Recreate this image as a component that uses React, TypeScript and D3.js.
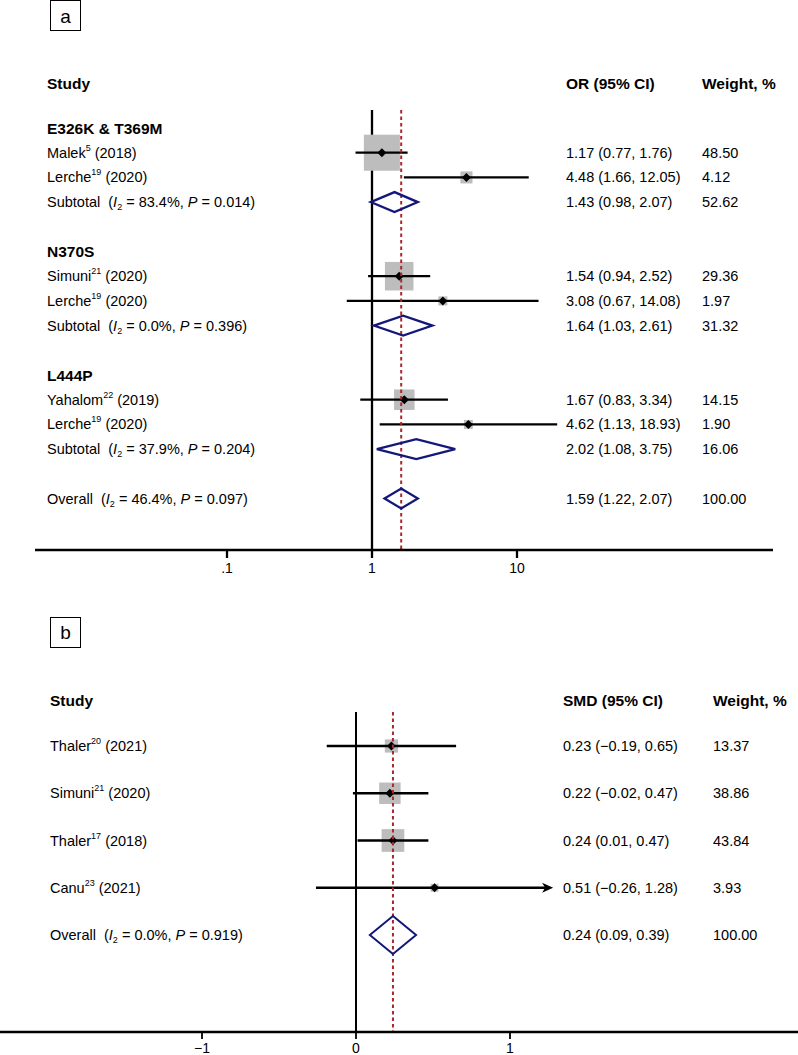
import React from "react";
import * as d3 from "d3";

// ---------- Panel a data ----------
const groupsA = ["E326K & T369M", "N370S", "L444P"];
const studyA = ["Malek", "Lerche", "Simuni", "Lerche", "Yahalom", "Lerche"];
const refA = ["5", "19", "21", "19", "22", "19"];
const yearA = [2018, 2020, 2020, 2020, 2019, 2020];
const groupOfA = [0, 0, 1, 1, 2, 2];
const orA = [1.17, 4.48, 1.54, 3.08, 1.67, 4.62];
const loA = [0.77, 1.66, 0.94, 0.67, 0.83, 1.13];
const hiA = [1.76, 12.05, 2.52, 14.08, 3.34, 18.93];
const wA = [48.5, 4.12, 29.36, 1.97, 14.15, 1.9];
const subEst = [1.43, 1.64, 2.02];
const subLo = [0.98, 1.03, 1.08];
const subHi = [2.07, 2.61, 3.75];
const subW = [52.62, 31.32, 16.06];
const subI2 = ["83.4", "0.0", "37.9"];
const subP = ["0.014", "0.396", "0.204"];
const overallA = { est: 1.59, lo: 1.22, hi: 2.07, w: 100, i2: "46.4", p: "0.097" };
const ticksA = [0.1, 1, 10];
const tickLabelsA = [".1", "1", "10"];

// ---------- Panel b data ----------
const studyB = ["Thaler", "Simuni", "Thaler", "Canu"];
const refB = ["20", "21", "17", "23"];
const yearB = [2021, 2020, 2018, 2021];
const smdB = [0.23, 0.22, 0.24, 0.51];
const loB = [-0.19, -0.02, 0.01, -0.26];
const hiB = [0.65, 0.47, 0.47, 1.28];
const wB = [13.37, 38.86, 43.84, 3.93];
const overallB = { est: 0.24, lo: 0.09, hi: 0.39, w: 100, i2: "0.0", p: "0.919" };
const ticksB = [-1, 0, 1];

const f2 = d3.format(".2f");
const FONT = "'Liberation Sans', Arial, sans-serif";
const FS = 14.5;
const FSB = 15.5;
const NAVY = "#14177a";
const RED = "#a8292c";
const GREY = "#bdbdbd";
const LW = 2.3;

function Sup({ t }: { t: string }) {
  return (
    <tspan fontSize={9} dy={-5}>
      {t}
    </tspan>
  );
}

function StatLabel({ x, y, prefix, i2, p }: { x: number; y: number; prefix: string; i2: string; p: string }) {
  return (
    <text x={x} y={y} fontSize={FS} dominantBaseline="central" style={{ whiteSpace: "pre" }}>
      {prefix + "  ("}
      <tspan fontStyle="italic">I</tspan>
      <tspan fontSize={9} dy={5}>2</tspan>
      <tspan dy={-5}>{" = " + i2 + "%, "}</tspan>
      <tspan fontStyle="italic">P</tspan>
      {" = " + p + ")"}
    </text>
  );
}

function Diamond({ x, lo, hi, y, h, stroke, fill, sw }: any) {
  const p = d3.path();
  p.moveTo(lo, y);
  p.lineTo(x, y - h);
  p.lineTo(hi, y);
  p.lineTo(x, y + h);
  p.closePath();
  return <path d={p.toString()} fill={fill} stroke={stroke} strokeWidth={sw} strokeLinejoin="miter" />;
}

function PanelA() {
  const x = d3.scaleLog().domain([0.1, 10]).range([227, 517]);
  const row = d3.scaleLinear().domain([0, 15]).range([128, 498.5]);
  const boxSide = (w: number) => 2.2 + 4.86 * Math.sqrt(w);
  const axisY = 550;
  const colOR = 566;
  const colW = 702;
  const labX = 47;

  const studyRow = studyA.map((_, i) => groupOfA[i] * 5 + 1 + (i % 2));
  const subRow = groupsA.map((_, g) => g * 5 + 3);

  return (
    <g fontFamily={FONT}>
      <rect x={50.5} y={0.5} width={30} height={30} fill="white" stroke="black" strokeWidth={1} />
      <text x={65.5} y={16} fontSize={19} textAnchor="middle" dominantBaseline="central">a</text>

      <text x={labX} y={83} fontSize={FSB} fontWeight="bold" dominantBaseline="central">Study</text>
      <text x={colOR} y={83} fontSize={FSB} fontWeight="bold" dominantBaseline="central">OR (95% CI)</text>
      <text x={colW} y={83} fontSize={FSB} fontWeight="bold" dominantBaseline="central">Weight, %</text>

      <line x1={x(1)} x2={x(1)} y1={110} y2={axisY} stroke="black" strokeWidth={LW} />

      {groupsA.map((g, gi) => (
        <text key={g} x={labX} y={row(gi * 5)} fontSize={FSB} fontWeight="bold" dominantBaseline="central">{g}</text>
      ))}

      {studyA.map((s, i) => {
        const y = row(studyRow[i]);
        const side = boxSide(wA[i]);
        return (
          <g key={"sa" + i}>
            <rect x={x(orA[i]) - side / 2} y={y - side / 2} width={side} height={side} fill={GREY} />
            <line x1={x(loA[i])} x2={x(hiA[i])} y1={y} y2={y} stroke="black" strokeWidth={LW} />
            <Diamond x={x(orA[i])} lo={x(orA[i]) - 4.5} hi={x(orA[i]) + 4.5} y={y} h={4.5} fill="black" stroke="none" sw={0} />
            <text x={labX} y={y} fontSize={FS} dominantBaseline="central">
              {s}
              <Sup t={refA[i]} />
              <tspan dy={5}>{" (" + yearA[i] + ")"}</tspan>
            </text>
            <text x={colOR} y={y} fontSize={FS} dominantBaseline="central">
              {`${f2(orA[i])} (${f2(loA[i])}, ${f2(hiA[i])})`}
            </text>
            <text x={colW} y={y} fontSize={FS} dominantBaseline="central">{f2(wA[i])}</text>
          </g>
        );
      })}

      {groupsA.map((g, gi) => {
        const y = row(subRow[gi]);
        return (
          <g key={"sub" + gi}>
            <StatLabel x={labX} y={y} prefix="Subtotal" i2={subI2[gi]} p={subP[gi]} />
            <text x={colOR} y={y} fontSize={FS} dominantBaseline="central">
              {`${f2(subEst[gi])} (${f2(subLo[gi])}, ${f2(subHi[gi])})`}
            </text>
            <text x={colW} y={y} fontSize={FS} dominantBaseline="central">{f2(subW[gi])}</text>
          </g>
        );
      })}

      <StatLabel x={labX} y={row(15)} prefix="Overall" i2={overallA.i2} p={overallA.p} />
      <text x={colOR} y={row(15)} fontSize={FS} dominantBaseline="central">
        {`${f2(overallA.est)} (${f2(overallA.lo)}, ${f2(overallA.hi)})`}
      </text>
      <text x={colW} y={row(15)} fontSize={FS} dominantBaseline="central">{f2(overallA.w)}</text>

      <line x1={x(overallA.est)} x2={x(overallA.est)} y1={110} y2={axisY} stroke={RED} strokeWidth={2} strokeDasharray="3.5 3" />

      {groupsA.map((g, gi) => (
        <Diamond key={"sd" + gi} x={x(subEst[gi])} lo={x(subLo[gi])} hi={x(subHi[gi])} y={row(subRow[gi])} h={10} fill="none" stroke={NAVY} sw={2.3} />
      ))}
      <Diamond x={x(overallA.est)} lo={x(overallA.lo)} hi={x(overallA.hi)} y={row(15)} h={10} fill="none" stroke={NAVY} sw={2.3} />

      <line x1={35} x2={773} y1={axisY} y2={axisY} stroke="black" strokeWidth={LW} />
      {ticksA.map((t, i) => (
        <g key={"ta" + i}>
          <line x1={x(t)} x2={x(t)} y1={axisY} y2={axisY + 8} stroke="black" strokeWidth={LW} />
          <text x={x(t)} y={axisY + 18} fontSize={14} textAnchor="middle" dominantBaseline="central">{tickLabelsA[i]}</text>
        </g>
      ))}
    </g>
  );
}

function PanelB() {
  const x = d3.scaleLinear().domain([-1, 1]).range([202, 510]);
  const row = d3.scaleLinear().domain([0, 4]).range([746, 935]);
  const boxSide = (w: number) => 1.5 + 3.2 * Math.sqrt(w);
  const axisY = 1032;
  const colS = 563;
  const colW = 713;
  const labX = 50;

  return (
    <g fontFamily={FONT}>
      <rect x={50.5} y={617.5} width={30} height={30} fill="white" stroke="black" strokeWidth={1} />
      <text x={65.5} y={632.5} fontSize={19} textAnchor="middle" dominantBaseline="central">b</text>

      <text x={labX} y={700} fontSize={FSB} fontWeight="bold" dominantBaseline="central">Study</text>
      <text x={colS} y={700} fontSize={FSB} fontWeight="bold" dominantBaseline="central">SMD (95% CI)</text>
      <text x={colW} y={700} fontSize={FSB} fontWeight="bold" dominantBaseline="central">Weight, %</text>

      <line x1={x(0)} x2={x(0)} y1={712} y2={axisY} stroke="black" strokeWidth={2} />

      {studyB.map((s, i) => {
        const y = row(i);
        const side = boxSide(wB[i]);
        const arrow = i === 3;
        return (
          <g key={"sb" + i}>
            <rect x={x(smdB[i]) - side / 2} y={y - side / 2} width={side} height={side} fill={GREY} />
            <line x1={x(loB[i])} x2={x(hiB[i]) - (arrow ? 4 : 0)} y1={y} y2={y} stroke="black" strokeWidth={LW} />
            {arrow && (
              <path
                d={`M${x(hiB[i])},${y} L${x(hiB[i]) - 11},${y - 5} L${x(hiB[i]) - 8},${y} L${x(hiB[i]) - 11},${y + 5} Z`}
                fill="black"
              />
            )}
            <Diamond x={x(smdB[i])} lo={x(smdB[i]) - 4.5} hi={x(smdB[i]) + 4.5} y={y} h={4.5} fill="black" stroke="none" sw={0} />
            <text x={labX} y={y} fontSize={FS} dominantBaseline="central">
              {s}
              <Sup t={refB[i]} />
              <tspan dy={5}>{" (" + yearB[i] + ")"}</tspan>
            </text>
            <text x={colS} y={y} fontSize={FS} dominantBaseline="central">
              {`${f2(smdB[i])} (${f2(loB[i])}, ${f2(hiB[i])})`}
            </text>
            <text x={colW} y={y} fontSize={FS} dominantBaseline="central">{f2(wB[i])}</text>
          </g>
        );
      })}

      <StatLabel x={labX} y={row(4)} prefix="Overall" i2={overallB.i2} p={overallB.p} />
      <text x={colS} y={row(4)} fontSize={FS} dominantBaseline="central">
        {`${f2(overallB.est)} (${f2(overallB.lo)}, ${f2(overallB.hi)})`}
      </text>
      <text x={colW} y={row(4)} fontSize={FS} dominantBaseline="central">{f2(overallB.w)}</text>

      <line x1={x(overallB.est)} x2={x(overallB.est)} y1={712} y2={axisY} stroke={RED} strokeWidth={2} strokeDasharray="3.5 3" />
      <Diamond x={x(overallB.est)} lo={x(overallB.lo)} hi={x(overallB.hi)} y={row(4)} h={19} fill="none" stroke={NAVY} sw={2} />

      <line x1={0} x2={798} y1={axisY} y2={axisY} stroke="black" strokeWidth={LW} />
      {ticksB.map((t, i) => (
        <g key={"tb" + i}>
          <line x1={x(t)} x2={x(t)} y1={axisY} y2={axisY + 7} stroke="black" strokeWidth={1.8} />
          <text x={x(t)} y={axisY + 16} fontSize={14} textAnchor="middle" dominantBaseline="central">{d3.format("")(t)}</text>
        </g>
      ))}
    </g>
  );
}

export default function App() {
  return (
    <svg
      width={798}
      height={1055}
      viewBox="0 0 798 1055"
      style={{ position: "absolute", left: 0, top: 0, background: "white" }}
    >
      <rect width={798} height={1055} fill="white" />
      <PanelA />
      <PanelB />
    </svg>
  );
}
